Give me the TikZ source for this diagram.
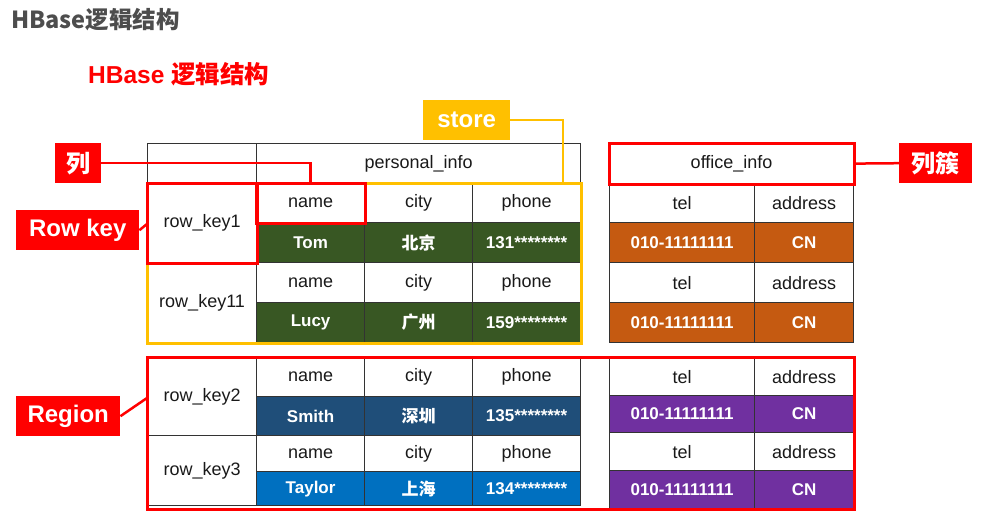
\documentclass[tikz,border=0pt]{standalone}
\usepackage{fontspec}
\setmainfont{Liberation Sans}
\newfontfamily\cjk{Noto Sans CJK SC}

\definecolor{hgreen}{HTML}{385723}
\definecolor{horange}{HTML}{C55A11}
\definecolor{hnavy}{HTML}{1F4E79}
\definecolor{hblue}{HTML}{0070C0}
\definecolor{hpurple}{HTML}{7030A0}
\definecolor{hyellow}{HTML}{FFC000}
\definecolor{hgray}{HTML}{4D4D4D}

\tikzset{
  cell/.style={draw=black!80, line width=1.2pt, anchor=north west, inner sep=0pt, text=black!90, font=\fontsize{18}{20}\selectfont},
  val/.style={cell, text=white, font=\fontsize{17}{20}\selectfont\bfseries},
  tag/.style={fill=red, text=white, anchor=north west, inner sep=0pt, minimum height=40pt, font=\fontsize{24}{28}\selectfont\bfseries},
  hilite/.style={draw=red, line width=3pt},
  link/.style={draw=red, line width=2.5pt}
}

% one row key of personal_info: id, y, h1, h2, key, name, city, phone, fill
\newcommand{\pblock}[9]{%
  \node[cell, minimum width=109pt, minimum height=(#3+#4)*1pt] (#1k) at (147,#2) {#5};
  \node[cell, minimum width=108pt, minimum height=#3pt] (#1n) at (256,#2) {name};
  \node[cell, minimum width=108pt, minimum height=#3pt] (#1c) at (364,#2) {city};
  \node[cell, minimum width=108pt, minimum height=#3pt] (#1p) at (472,#2) {phone};
  \node[val, fill=#9, minimum width=108pt, minimum height=#4pt] (#1nv) at (256,#2+#3) {#6};
  \node[val, fill=#9, minimum width=108pt, minimum height=#4pt] (#1cv) at (364,#2+#3) {\cjk #7};
  \node[val, fill=#9, minimum width=108pt, minimum height=#4pt] (#1pv) at (472,#2+#3) {#8};
}
% one row key of office_info: id, y, h1, h2, fill
\newcommand{\oblock}[5]{%
  \node[cell, minimum width=145pt, minimum height=#3pt] (#1t) at (609,#2) {tel};
  \node[cell, minimum width=99pt, minimum height=#3pt] (#1a) at (754,#2) {address};
  \node[val, fill=#5, minimum width=145pt, minimum height=#4pt] (#1tv) at (609,#2+#3) {010-11111111};
  \node[val, fill=#5, minimum width=99pt, minimum height=#4pt] (#1av) at (754,#2+#3) {CN};
}

\begin{document}
\begin{tikzpicture}[x=1pt, y=-1pt]
  \useasboundingbox (0,0) rectangle (991,522);

  % titles
  \node[anchor=west, inner sep=0pt, text=hgray, font=\fontsize{23.5}{25}\selectfont\bfseries\cjk] (title) at (11,20) {HBase逻辑结构};
  \node[anchor=west, inner sep=0pt, text=red, font=\fontsize{24.5}{26}\selectfont\bfseries] (subtitle) at (88,74) {HBase {\cjk 逻辑结构}};

  % headers
  \node[cell, minimum width=109pt, minimum height=40pt] (corner) at (147,143) {};
  \node[cell, minimum width=324pt, minimum height=40pt] (pinfo) at (256,143) {personal\_info};
  \node[cell, minimum width=244pt, minimum height=40pt] (oinfo) at (609,143) {office\_info};

  % personal_info rows
  \pblock{r1}{183}{39}{40}{row\_key1}{Tom}{北京}{131********}{hgreen}
  \pblock{r2}{262}{40}{40}{row\_key11}{Lucy}{广州}{159********}{hgreen}
  \pblock{r3}{357}{39}{39}{row\_key2}{Smith}{深圳}{135********}{hnavy}
  \pblock{r4}{435}{36}{34}{row\_key3}{Taylor}{上海}{134********}{hblue}

  % office_info rows
  \oblock{o1}{183}{39}{40}{horange}
  \oblock{o2}{262}{40}{40}{horange}
  \oblock{o3}{357}{38}{37}{hpurple}
  \oblock{o4}{432}{38}{38}{hpurple}

  % highlights
  \draw[hilite, draw=hyellow] (r1k.north west) rectangle (r2pv.south east);
  \draw[hilite] (r1k.north west) rectangle (r1k.south east);
  \draw[hilite] (r1n.north west) rectangle (r1n.south east);
  \draw[hilite] (oinfo.north west) rectangle (oinfo.south east);
  \draw[hilite] (r3k.north west) rectangle (o4av.south east);

  % tags
  \node[tag, fill=hyellow, minimum width=87pt] (store) at (423,100) {store};
  \node[tag, minimum width=46pt] (lie) at (55,143) {\cjk 列};
  \node[tag, minimum width=123pt] (rowkey) at (16,210) {Row key};
  \node[tag, minimum width=73pt] (cu) at (899,143) {\cjk 列簇};
  \node[tag, minimum width=104pt] (region) at (16,396) {Region};

  \coordinate (storeend) at (563,183);
  \coordinate (rowkeyend) at (147,224);
  \coordinate (regionend) at (147,398);
  \draw[link, draw=hyellow] (store.east) -| (storeend);
  \draw[link] (lie.east) -| (r1n.north);
  \draw[link] (rowkey.east) -- (rowkeyend);
  \draw[link] (oinfo.east) -- (cu.west);
  \draw[link] (region.east) -- (regionend);
\end{tikzpicture}
\end{document}
